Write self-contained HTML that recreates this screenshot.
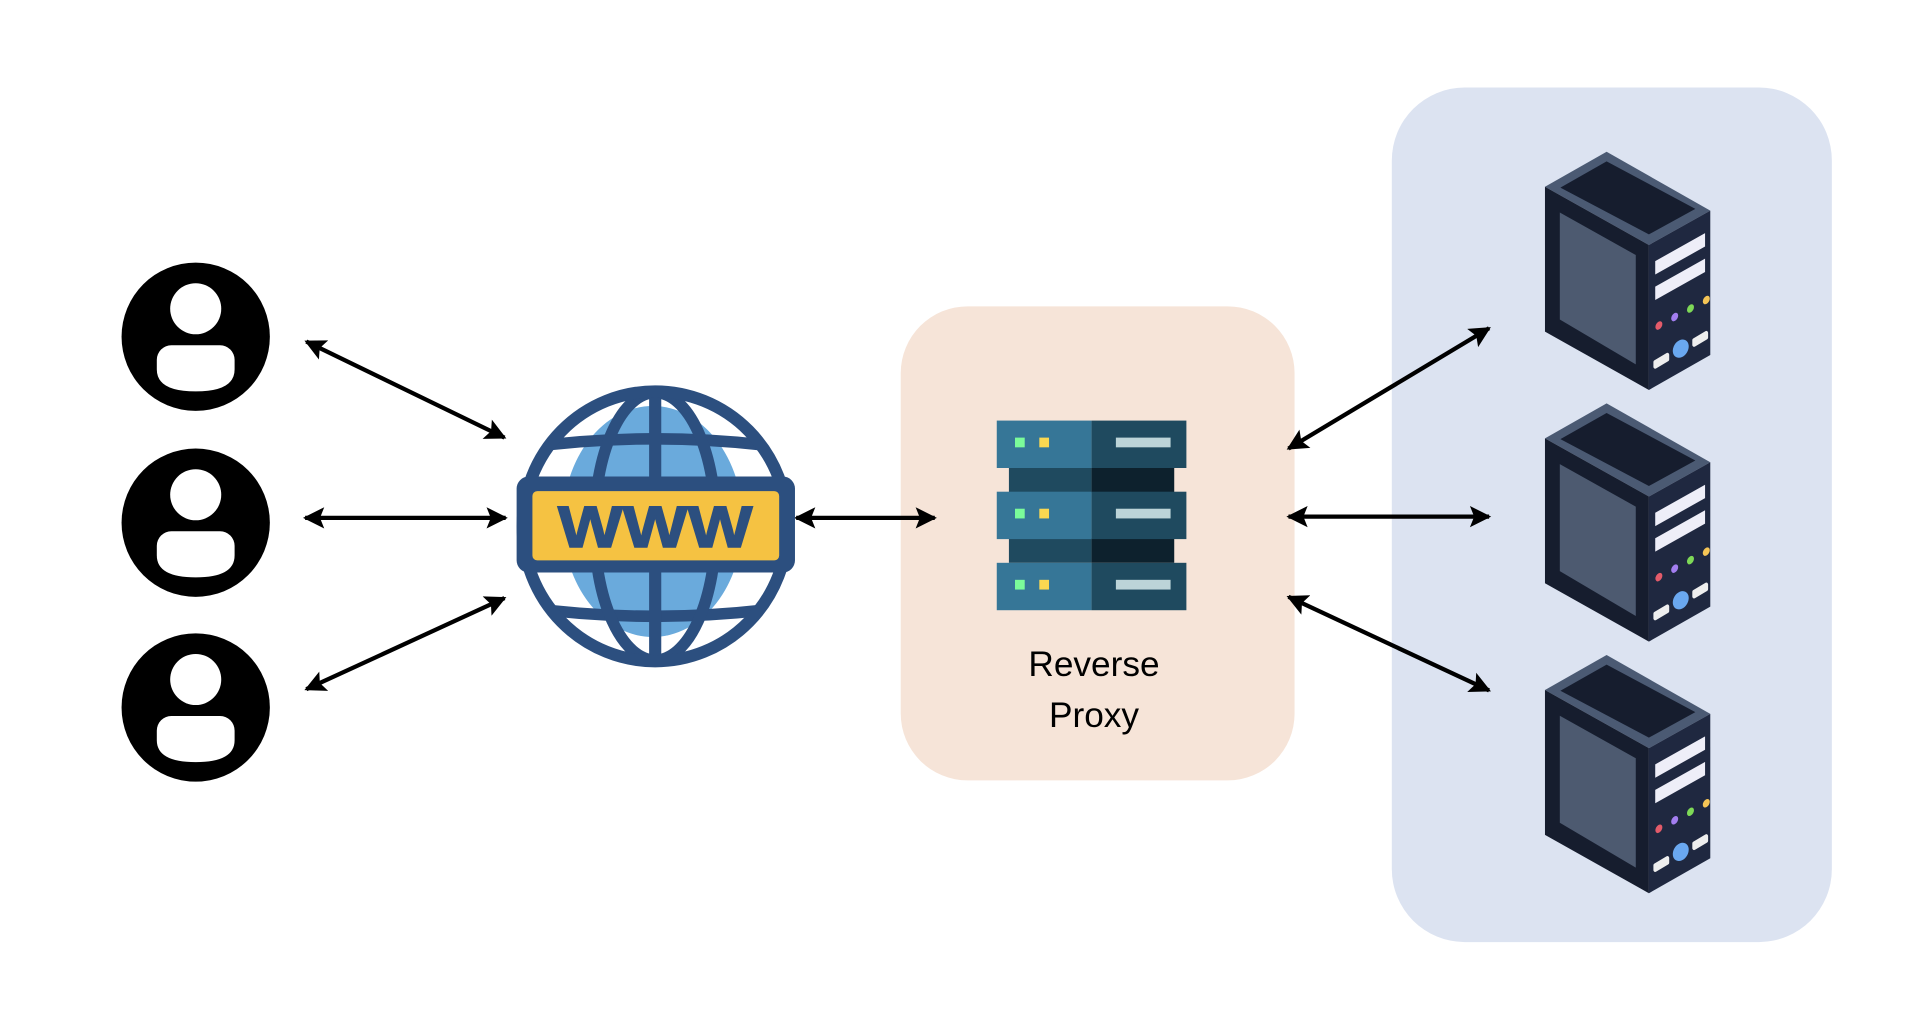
<!DOCTYPE html>
<html><head><meta charset="utf-8"><style>
html,body{margin:0;padding:0;background:#fff}
svg{display:block}
</style></head><body>
<svg width="1906" height="1024" viewBox="0 0 1568 842.4" preserveAspectRatio="none" xmlns="http://www.w3.org/2000/svg">
<defs>
<marker id="ah" viewBox="0 0 10 10" refX="9" refY="5" markerWidth="5.5" markerHeight="5" orient="auto-start-reverse" markerUnits="strokeWidth">
<path d="M0,0 L10,5 L0,10 L2,5 z" fill="#000"/>
</marker>
<clipPath id="gc"><ellipse cx="539" cy="433" rx="108" ry="110"/></clipPath>
<g id="user">
<circle cx="0" cy="0" r="61" fill="#000"/>
<circle cx="0" cy="-23" r="21" fill="#fff"/>
<path d="M-20,7 H20 A12,12 0 0 1 32,19 L32,27 Q32,45 0,45 Q-32,45 -32,27 L-32,19 A12,12 0 0 1 -20,7 Z" fill="#fff"/>
</g>
<g id="srv">
<polygon points="0,0 -50.7,28.8 34.8,76.7 85.3,48.5" fill="#4b5a73"/>
<polygon points="0,8 -38,29.5 34.8,68 73,47" fill="#161d2e"/>
<polygon points="-50.7,28.8 34.8,76.7 34.8,196 -50.7,148" fill="#161d2e"/>
<polygon points="-38.5,50 24,85 24,175 -38.5,138" fill="#4d5a70"/>
<polygon points="34.8,76.7 85.3,48.5 85.3,167.2 34.8,196" fill="#1f2840"/>
<polygon points="40,90 81,67 81,78 40,101" fill="#eeeef8"/>
<polygon points="40,111 81,88 81,99 40,122" fill="#eeeef8"/>
<ellipse cx="43" cy="143" rx="2.5" ry="3.8" fill="#e35b6a" transform="rotate(30 43 143)"/>
<ellipse cx="56" cy="136" rx="2.5" ry="3.8" fill="#a37ef0" transform="rotate(30 56 136)"/>
<ellipse cx="69" cy="129" rx="2.5" ry="3.8" fill="#7ed957" transform="rotate(30 69 129)"/>
<ellipse cx="82" cy="122" rx="2.5" ry="3.8" fill="#f5c556" transform="rotate(30 82 122)"/>
<ellipse cx="61" cy="162" rx="6" ry="8" fill="#6aa8f0" transform="rotate(30 61 162)"/>
<polygon points="40,173 50,167 50,171 40,177" fill="#eee" stroke="#eee" stroke-width="3" stroke-linejoin="round"/>
<polygon points="72,155 82,149 82,153 72,159" fill="#eee" stroke="#eee" stroke-width="3" stroke-linejoin="round"/>
</g>
</defs>

<rect x="1145" y="72" width="362" height="703" rx="60" fill="#dce3f1"/>
<rect x="741" y="252" width="324" height="390" rx="55" fill="#f6e4d8"/>

<use href="#user" x="161" y="277"/>
<use href="#user" x="161" y="430"/>
<use href="#user" x="161" y="582"/>

<g stroke="#000" stroke-width="3.5" marker-start="url(#ah)" marker-end="url(#ah)">
<line x1="252" y1="281" x2="415" y2="360"/>
<line x1="251" y1="426" x2="416" y2="426"/>
<line x1="252" y1="567" x2="415" y2="492"/>
<line x1="655" y1="426" x2="769" y2="426"/>
<line x1="1060" y1="369" x2="1225" y2="270"/>
<line x1="1060" y1="425" x2="1225" y2="425"/>
<line x1="1060" y1="491" x2="1225" y2="568"/>
</g>

<!-- globe -->
<g>
<ellipse cx="539" cy="433" rx="109" ry="111" fill="#fff"/>
<ellipse cx="537" cy="429" rx="74" ry="95" fill="#6aaadc"/>
<g clip-path="url(#gc)">
<path d="M420,370 Q539,352 658,370" fill="none" stroke="#2c4f7f" stroke-width="9.5"/>
<path d="M420,498 Q539,516 658,498" fill="none" stroke="#2c4f7f" stroke-width="9.5"/>
</g>
<ellipse cx="539" cy="433" rx="50" ry="110" fill="none" stroke="#2c4f7f" stroke-width="9.5"/>
<line x1="539" y1="320" x2="539" y2="546" stroke="#2c4f7f" stroke-width="10"/>
<ellipse cx="539" cy="433" rx="109" ry="111" fill="none" stroke="#2c4f7f" stroke-width="10"/>
<rect x="425" y="392" width="229" height="79" rx="10" fill="#2c4f7f"/>
<rect x="438" y="404" width="203" height="57" rx="4" fill="#f5c242"/>
<text x="539" y="450" text-anchor="middle" font-family="Liberation Sans, sans-serif" font-weight="bold" font-size="48" fill="#2c4f7f" stroke="#2c4f7f" stroke-width="1.2" textLength="160" lengthAdjust="spacingAndGlyphs">WWW</text>
</g>

<!-- proxy icon -->
<g>
<rect x="830" y="385" width="68" height="20" fill="#1f4a5f"/>
<rect x="898" y="385" width="68" height="20" fill="#0d212d"/>
<rect x="830" y="443" width="68" height="20" fill="#1f4a5f"/>
<rect x="898" y="443" width="68" height="20" fill="#0d212d"/>
<g id="blk">
<rect x="820" y="346" width="78" height="39" fill="#367697"/>
<rect x="898" y="346" width="78" height="39" fill="#1f4a5f"/>
<rect x="835" y="360" width="8" height="8" fill="#7bfb9a"/>
<rect x="855" y="360" width="8" height="8" fill="#fad851"/>
<rect x="918" y="360" width="45" height="8" fill="#bcd4d8"/>
</g>
<use href="#blk" y="58.5"/>
<use href="#blk" y="117"/>
</g>
<text x="900" y="556" text-anchor="middle" font-family="Liberation Sans, sans-serif" font-size="29" fill="#000">Reverse</text>
<text x="900" y="598" text-anchor="middle" font-family="Liberation Sans, sans-serif" font-size="29" fill="#000">Proxy</text>

<use href="#srv" x="1321.7" y="124.8"/>
<use href="#srv" x="1321.7" y="331.8"/>
<use href="#srv" x="1321.7" y="538.8"/>
</svg>
</body></html>
